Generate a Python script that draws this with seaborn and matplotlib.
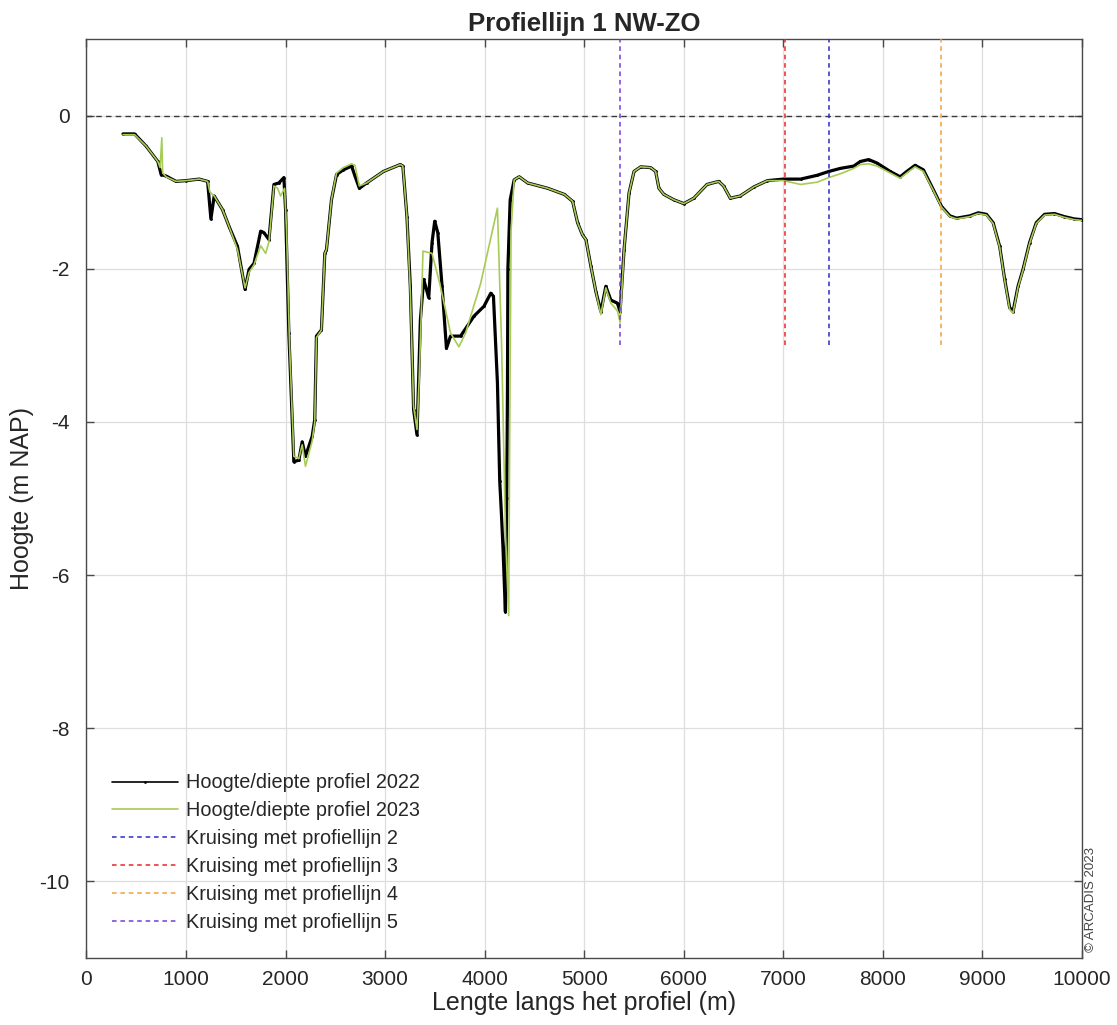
import seaborn as sns
import pandas as pd
import matplotlib
matplotlib.use("Agg")
import matplotlib.pyplot as plt

# profile 2022
x_2022 = [367, 483, 600, 717, 750, 800, 900, 1000, 1133, 1217, 1250, 1283, 1367, 1433,
          1517, 1593, 1633, 1683, 1750, 1783, 1833, 1883, 1933, 1983, 2000, 2033, 2083,
          2133, 2167, 2200, 2267, 2293, 2310, 2360, 2394, 2411, 2461, 2512, 2579, 2663,
          2697, 2741, 2815, 2983, 3152, 3178, 3219, 3253, 3286, 3320, 3354, 3387, 3438,
          3471, 3498, 3529, 3572, 3616, 3657, 3758, 3892, 3993, 4061, 4088, 4128, 4151,
          4168, 4184, 4208, 4222, 4229, 4233, 4256, 4296, 4347, 4431, 4633, 4800, 4883,
          4933, 4983, 5017, 5067, 5117, 5167, 5217, 5267, 5333, 5360, 5400, 5450, 5500,
          5567, 5667, 5717, 5750, 5800, 5900, 6000, 6100, 6233, 6350, 6400, 6467, 6567,
          6707, 6840, 7000, 7173, 7340, 7457, 7573, 7707, 7773, 7857, 7940, 8073, 8173,
          8240, 8323, 8407, 8507, 8590, 8673, 8740, 8873, 8957, 9040, 9107, 9173, 9223,
          9273, 9307, 9357, 9407, 9473, 9540, 9623, 9723, 9823, 9923, 10000]
y_2022 = [-0.24, -0.24, -0.40, -0.60, -0.77, -0.79, -0.86, -0.85, -0.83, -0.86, -1.35, -1.05,
          -1.23, -1.45, -1.71, -2.27, -2.01, -1.93, -1.51, -1.53, -1.62, -0.90, -0.88, -0.81,
          -1.23, -2.84, -4.52, -4.50, -4.26, -4.45, -4.19, -3.97, -2.88, -2.80, -1.80, -1.75,
          -1.10, -0.77, -0.71, -0.66, -0.79, -0.95, -0.88, -0.73, -0.64, -0.66, -1.32, -2.23,
          -3.84, -4.17, -2.67, -2.14, -2.38, -1.66, -1.38, -1.53, -2.23, -3.04, -2.88, -2.88,
          -2.62, -2.49, -2.32, -2.36, -3.49, -4.77, -5.20, -5.65, -6.48, -5.00, -3.50, -2.00,
          -1.10, -0.84, -0.80, -0.88, -0.95, -1.03, -1.12, -1.40, -1.56, -1.62, -1.97, -2.30,
          -2.56, -2.23, -2.41, -2.45, -2.56, -1.75, -1.01, -0.73, -0.67, -0.68, -0.73, -0.95,
          -1.03, -1.10, -1.15, -1.08, -0.90, -0.86, -0.92, -1.08, -1.05, -0.93, -0.85, -0.83,
          -0.83, -0.78, -0.73, -0.69, -0.66, -0.60, -0.575, -0.62, -0.73, -0.80, -0.73, -0.65,
          -0.71, -0.97, -1.19, -1.31, -1.34, -1.31, -1.27, -1.29, -1.40, -1.71, -2.14, -2.51,
          -2.56, -2.23, -2.01, -1.66, -1.40, -1.29, -1.28, -1.32, -1.35, -1.36]

# profile 2023
x_2023 = [367, 483, 600, 717, 740, 757, 765, 800, 900, 1000, 1133, 1217, 1240, 1283, 1367,
          1433, 1517, 1593, 1633, 1683, 1750, 1800, 1833, 1883, 1920, 1950, 1990, 2010, 2040,
          2083, 2133, 2167, 2200, 2267, 2293, 2310, 2360, 2394, 2411, 2461, 2512, 2579, 2663,
          2697, 2741, 2815, 2983, 3152, 3178, 3219, 3253, 3286, 3320, 3340, 3365, 3380, 3471,
          3550, 3657, 3741, 3808, 3960, 4128, 4170, 4210, 4241, 4252, 4265, 4296, 4347, 4431,
          4633, 4800, 4883, 4933, 4983, 5017, 5067, 5117, 5167, 5217, 5267, 5333, 5360, 5400,
          5450, 5500, 5567, 5667, 5717, 5750, 5800, 5900, 6000, 6100, 6233, 6350, 6400, 6467,
          6567, 6707, 6840, 7000, 7173, 7340, 7457, 7573, 7707, 7773, 7857, 7940, 8073, 8173,
          8240, 8323, 8407, 8507, 8590, 8673, 8740, 8873, 8957, 9040, 9107, 9173, 9223, 9273,
          9307, 9357, 9407, 9473, 9540, 9623, 9723, 9823, 9923, 10000]
y_2023 = [-0.25, -0.25, -0.40, -0.60, -0.68, -0.29, -0.75, -0.80, -0.86, -0.85, -0.83, -0.86,
          -1.00, -1.05, -1.23, -1.45, -1.75, -2.25, -2.05, -1.95, -1.70, -1.80, -1.65, -0.92,
          -0.95, -1.05, -0.95, -1.50, -3.00, -4.45, -4.48, -4.30, -4.58, -4.25, -4.00, -2.90,
          -2.80, -1.80, -1.75, -1.10, -0.75, -0.68, -0.63, -0.65, -0.92, -0.88, -0.73, -0.64,
          -0.66, -1.32, -2.30, -3.80, -4.10, -3.50, -2.50, -1.77, -1.80, -2.20, -2.84, -3.02,
          -2.84, -2.19, -1.21, -3.00, -5.50, -6.53, -4.00, -1.50, -0.84, -0.80, -0.88, -0.95,
          -1.03, -1.12, -1.40, -1.56, -1.62, -1.97, -2.30, -2.60, -2.25, -2.45, -2.55, -2.70,
          -1.75, -1.01, -0.73, -0.67, -0.68, -0.73, -0.95, -1.03, -1.10, -1.15, -1.08, -0.90,
          -0.86, -0.92, -1.08, -1.05, -0.93, -0.85, -0.85, -0.90, -0.87, -0.81, -0.76, -0.69,
          -0.64, -0.63, -0.66, -0.75, -0.82, -0.75, -0.67, -0.73, -0.98, -1.20, -1.32, -1.35,
          -1.32, -1.28, -1.30, -1.41, -1.72, -2.15, -2.53, -2.58, -2.24, -2.02, -1.67, -1.41,
          -1.30, -1.29, -1.33, -1.36, -1.37]

# crossings with other profile lines
cross_names = ["Kruising met profiellijn 2", "Kruising met profiellijn 3",
               "Kruising met profiellijn 4", "Kruising met profiellijn 5"]
cross_x = [7457, 7013, 8580, 5360]
cross_colors = ["#2b2bc8", "#e8262a", "#f0a23a", "#7a3ad8"]
cross_bottom = -3.0

x_ticks = list(range(0, 10001, 1000))
y_ticks = [0, -2, -4, -6, -8, -10]

df22 = pd.DataFrame({"x": x_2022, "y": y_2022})
df23 = pd.DataFrame({"x": x_2023, "y": y_2023})

sns.set_theme(style="whitegrid")
plt.rcParams["font.family"] = ["Liberation Sans", "DejaVu Sans"]

fig = plt.figure(figsize=(11.17, 10.25), dpi=100)
ax = fig.add_axes([0.0774, 0.0654, 0.8913, 0.8966])

# zero reference line
ax.axhline(0, color="#3a3a3a", lw=1.0, ls=(0, (4, 3)), zorder=2)

sns.lineplot(data=df22, x="x", y="y", ax=ax, sort=False, estimator=None,
             color="black", lw=2.3, marker=".", markersize=4, markeredgewidth=0,
             label="Hoogte/diepte profiel 2022", zorder=3)
sns.lineplot(data=df23, x="x", y="y", ax=ax, sort=False, estimator=None,
             color="#a6cc56", lw=1.2, label="Hoogte/diepte profiel 2023", zorder=4)

for name, xc, col in zip(cross_names, cross_x, cross_colors):
    ax.plot([xc, xc], [cross_bottom, 1.0], color=col, lw=1.1,
            ls=(0, (3, 2.5)), label=name, zorder=5)

ax.set_xlim(0, 10000)
ax.set_ylim(-11, 1)
ax.set_xticks(x_ticks)
ax.set_yticks(y_ticks)
ax.set_xticklabels([str(t) for t in x_ticks])
ax.set_yticklabels([str(t) for t in y_ticks])

ax.grid(True, color="#dedede", lw=0.9)
for s in ax.spines.values():
    s.set_visible(True)
    s.set_color("#4a4a4a")
    s.set_linewidth(1.0)
ax.tick_params(direction="in", length=6, width=1, color="#4a4a4a",
               top=True, right=True, bottom=True, left=True,
               labelsize=15, labelcolor="#262626")
ax.tick_params(axis="y", pad=12)
ax.tick_params(axis="x", pad=9)

ax.set_xlabel("Lengte langs het profiel (m)", fontsize=18, color="#262626", labelpad=1)
ax.set_ylabel("Hoogte (m NAP)", fontsize=18, color="#262626", labelpad=4)
ax.set_title("Profiellijn 1 NW-ZO", fontsize=18.5, fontweight="bold", pad=6)

leg = ax.legend(loc="lower left", bbox_to_anchor=(0.0, 0.0), frameon=False,
                fontsize=14.3, handlelength=3.3, handletextpad=0.4,
                labelspacing=0.45, borderaxespad=0.9)
# the 2022 legend line is thin with a single dot, like the source
leg.legend_handles[0].set_linewidth(1.2)
leg.legend_handles[0].set_markersize(4)

fig.text(0.977, 0.071, "\u00a9 ARCADIS 2023", rotation=90, fontsize=9.5,
         color="#444444", ha="center", va="bottom")

fig.savefig("out.png", dpi=100)
